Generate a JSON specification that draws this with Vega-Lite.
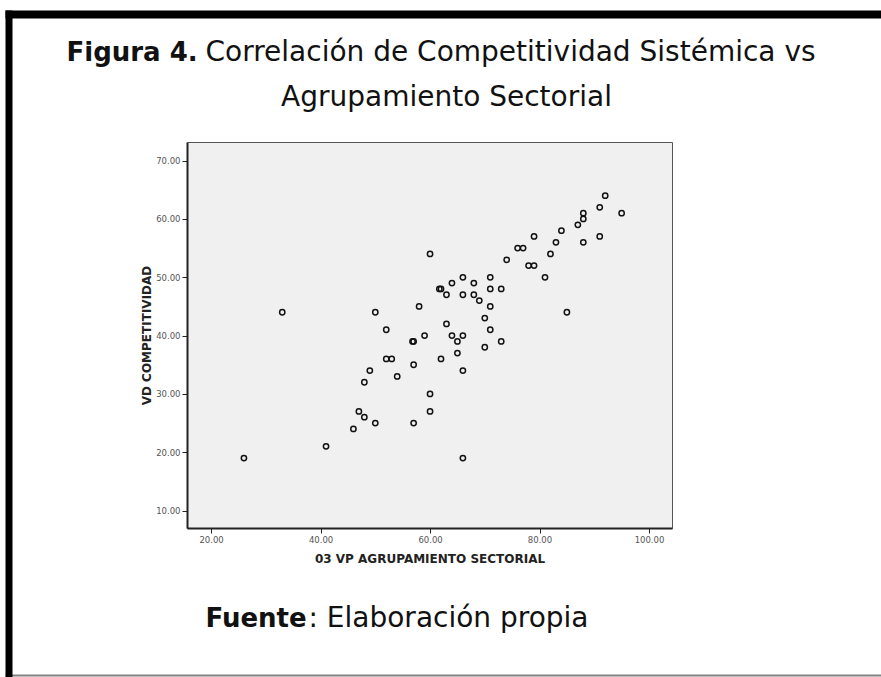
{
  "$schema": "https://vega.github.io/schema/vega-lite/v6.json",
  "autosize": {"type": "none"},
  "width": 485,
  "height": 386,
  "padding": {"left": 187, "top": 142, "right": 209, "bottom": 149},
  "background": "white",
  "config": {
    "view": {"fill": "#f0f0f0", "stroke": "#555555", "strokeWidth": 1},
    "axis": {"grid": false, "titleLimit": 2000, "labelLimit": 500}
  },
  "data": {
    "values": [
      {"agrupamiento": 26, "competitividad": 19},
      {"agrupamiento": 33, "competitividad": 44},
      {"agrupamiento": 41, "competitividad": 21},
      {"agrupamiento": 46, "competitividad": 24},
      {"agrupamiento": 47, "competitividad": 27},
      {"agrupamiento": 48, "competitividad": 26},
      {"agrupamiento": 48, "competitividad": 32},
      {"agrupamiento": 49, "competitividad": 34},
      {"agrupamiento": 50, "competitividad": 25},
      {"agrupamiento": 50, "competitividad": 44},
      {"agrupamiento": 52, "competitividad": 41},
      {"agrupamiento": 52, "competitividad": 36},
      {"agrupamiento": 53, "competitividad": 36},
      {"agrupamiento": 54, "competitividad": 33},
      {"agrupamiento": 57, "competitividad": 25},
      {"agrupamiento": 57, "competitividad": 35},
      {"agrupamiento": 57, "competitividad": 39},
      {"agrupamiento": 56.8, "competitividad": 39},
      {"agrupamiento": 58, "competitividad": 45},
      {"agrupamiento": 59, "competitividad": 40},
      {"agrupamiento": 60, "competitividad": 54},
      {"agrupamiento": 60, "competitividad": 30},
      {"agrupamiento": 60, "competitividad": 27},
      {"agrupamiento": 62, "competitividad": 48},
      {"agrupamiento": 61.7, "competitividad": 48},
      {"agrupamiento": 62, "competitividad": 36},
      {"agrupamiento": 63, "competitividad": 47},
      {"agrupamiento": 63, "competitividad": 42},
      {"agrupamiento": 64, "competitividad": 49},
      {"agrupamiento": 64, "competitividad": 40},
      {"agrupamiento": 65, "competitividad": 39},
      {"agrupamiento": 65, "competitividad": 37},
      {"agrupamiento": 66, "competitividad": 50},
      {"agrupamiento": 66, "competitividad": 47},
      {"agrupamiento": 66, "competitividad": 40},
      {"agrupamiento": 66, "competitividad": 34},
      {"agrupamiento": 66, "competitividad": 19},
      {"agrupamiento": 68, "competitividad": 49},
      {"agrupamiento": 68, "competitividad": 47},
      {"agrupamiento": 69, "competitividad": 46},
      {"agrupamiento": 70, "competitividad": 43},
      {"agrupamiento": 70, "competitividad": 38},
      {"agrupamiento": 71, "competitividad": 50},
      {"agrupamiento": 71, "competitividad": 48},
      {"agrupamiento": 71, "competitividad": 45},
      {"agrupamiento": 71, "competitividad": 41},
      {"agrupamiento": 73, "competitividad": 48},
      {"agrupamiento": 73, "competitividad": 39},
      {"agrupamiento": 74, "competitividad": 53},
      {"agrupamiento": 76, "competitividad": 55},
      {"agrupamiento": 77, "competitividad": 55},
      {"agrupamiento": 78, "competitividad": 52},
      {"agrupamiento": 79, "competitividad": 52},
      {"agrupamiento": 79, "competitividad": 57},
      {"agrupamiento": 81, "competitividad": 50},
      {"agrupamiento": 82, "competitividad": 54},
      {"agrupamiento": 83, "competitividad": 56},
      {"agrupamiento": 84, "competitividad": 58},
      {"agrupamiento": 85, "competitividad": 44},
      {"agrupamiento": 87, "competitividad": 59},
      {"agrupamiento": 88, "competitividad": 60},
      {"agrupamiento": 88, "competitividad": 61},
      {"agrupamiento": 88, "competitividad": 56},
      {"agrupamiento": 91, "competitividad": 57},
      {"agrupamiento": 91, "competitividad": 62},
      {"agrupamiento": 92, "competitividad": 64},
      {"agrupamiento": 95, "competitividad": 61}
    ]
  },
  "layer": [
    {
      "mark": {"type": "point", "opacity": 0},
      "encoding": {
        "x": {
          "field": "agrupamiento", "type": "quantitative",
          "scale": {"domain": [15.6, 104.2], "nice": false, "zero": false},
          "axis": {
            "orient": "bottom", "offset": 146, "values": [62.37], "labels": false, "domain": false,
            "ticks": true, "tickSize": 2, "tickWidth": 876, "tickColor": "#808080",
            "title": "Agrupamiento Sectorial", "titleX": 259, "titleY": -569, "titleAlign": "center",
            "titleBaseline": "alphabetic", "titleAngle": 0, "titleFont": "DejaVu Sans", "titleFontSize": 28,
            "titleFontWeight": "normal", "titleColor": "#111111"
          }
        },
        "y": {
          "field": "competitividad", "type": "quantitative",
          "scale": {"domain": [7, 73.2], "nice": false, "zero": false},
          "axis": {
            "orient": "left", "offset": 175, "values": [37.53], "labels": false, "domain": false,
            "ticks": true, "tickSize": 7, "tickWidth": 680, "tickColor": "#000000", "title": null
          }
        }
      }
    },
    {
      "mark": {"type": "point", "opacity": 0},
      "encoding": {
        "x": {
          "field": "agrupamiento", "type": "quantitative",
          "scale": {"domain": [15.6, 104.2], "nice": false, "zero": false},
          "axis": {
            "orient": "top", "offset": 124, "values": [62.37], "labels": false, "domain": false,
            "ticks": true, "tickSize": 8, "tickWidth": 876, "tickColor": "#000000",
            "title": "Figura 4.", "titleX": -121, "titleY": 42, "titleAlign": "left",
            "titleBaseline": "alphabetic", "titleAngle": 0, "titleFont": "DejaVu Sans", "titleFontSize": 26,
            "titleFontWeight": "bold", "titleColor": "#111111"
          }
        },
        "y": {
          "field": "competitividad", "type": "quantitative",
          "scale": {"domain": [7, 73.2], "nice": false, "zero": false},
          "axis": {
            "orient": "right", "labels": false, "domain": false, "ticks": false,
            "title": "Fuente", "titleX": -467, "titleY": 484, "titleAlign": "left",
            "titleBaseline": "alphabetic", "titleAngle": 0, "titleFont": "DejaVu Sans", "titleFontSize": 26,
            "titleFontWeight": "bold", "titleColor": "#111111"
          }
        }
      }
    },
    {
      "mark": {"type": "point", "opacity": 0},
      "encoding": {
        "x": {
          "field": "agrupamiento", "type": "quantitative",
          "scale": {"domain": [15.6, 104.2], "nice": false, "zero": false},
          "axis": {
            "orient": "top", "labels": false, "domain": false, "ticks": false,
            "title": "Correlación de Competitividad Sistémica vs", "titleX": 18, "titleY": -82, "titleAlign": "left",
            "titleBaseline": "alphabetic", "titleAngle": 0, "titleFont": "DejaVu Sans", "titleFontSize": 28,
            "titleFontWeight": "normal", "titleColor": "#111111"
          }
        },
        "y": {
          "field": "competitividad", "type": "quantitative",
          "scale": {"domain": [7, 73.2], "nice": false, "zero": false},
          "axis": {
            "orient": "right", "labels": false, "domain": false, "ticks": false,
            "title": ": Elaboración propia", "titleX": -364, "titleY": 484, "titleAlign": "left",
            "titleBaseline": "alphabetic", "titleAngle": 0, "titleFont": "DejaVu Sans", "titleFontSize": 28,
            "titleFontWeight": "normal", "titleColor": "#111111"
          }
        }
      }
    },
    {
      "mark": {"type": "point", "shape": "circle", "filled": false, "stroke": "#111111", "strokeWidth": 1.5, "size": 28, "opacity": 1},
      "encoding": {
        "x": {
          "field": "agrupamiento", "type": "quantitative",
          "scale": {"domain": [15.6, 104.2], "nice": false, "zero": false},
          "axis": {
            "orient": "bottom", "values": [20, 40, 60, 80, 100], "format": ".2f",
            "labelFont": "DejaVu Sans", "labelFontSize": 8.5, "labelColor": "#555555", "labelPadding": 2,
            "labelFlush": false, "labelOverlap": false,
            "tickSize": 5, "tickColor": "#222222", "tickWidth": 1, "domainColor": "#222222", "domainWidth": 2,
            "title": "03 VP AGRUPAMIENTO SECTORIAL", "titleFont": "DejaVu Sans", "titleFontSize": 12,
            "titleFontWeight": "bold", "titleColor": "#222222", "titleY": 34, "titleBaseline": "alphabetic"
          }
        },
        "y": {
          "field": "competitividad", "type": "quantitative",
          "scale": {"domain": [7, 73.2], "nice": false, "zero": false},
          "axis": {
            "orient": "left", "values": [10, 20, 30, 40, 50, 60, 70], "format": ".2f",
            "labelFont": "DejaVu Sans", "labelFontSize": 8.5, "labelColor": "#555555", "labelPadding": 2,
            "labelOverlap": false,
            "tickSize": 5, "tickColor": "#222222", "tickWidth": 1, "domainColor": "#222222", "domainWidth": 2,
            "title": "VD COMPETITIVIDAD", "titleFont": "DejaVu Sans", "titleFontSize": 12,
            "titleFontWeight": "bold", "titleColor": "#222222", "titleX": -37, "titleY": 193,
            "titleAngle": 270, "titleAlign": "center", "titleBaseline": "alphabetic"
          }
        }
      }
    }
  ],
  "resolve": {
    "scale": {"x": "independent", "y": "independent"},
    "axis": {"x": "independent", "y": "independent"}
  }
}
